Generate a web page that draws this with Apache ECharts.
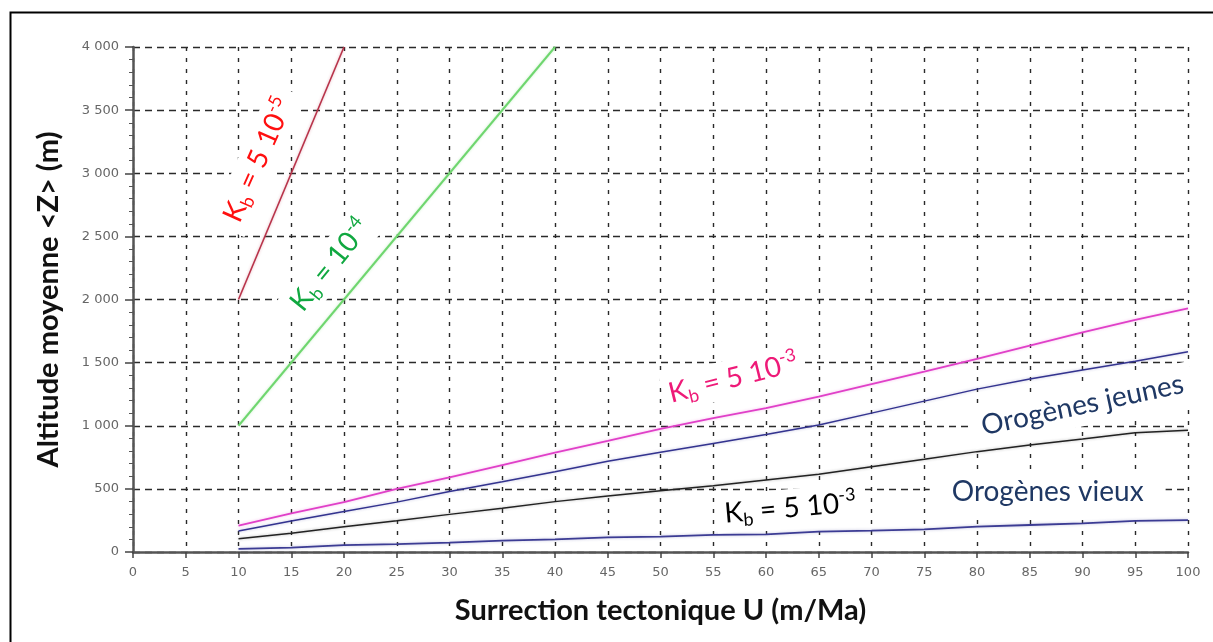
<!DOCTYPE html>
<html>
<head>
<meta charset="utf-8">
<script src="https://cdn.jsdelivr.net/npm/echarts@6/dist/echarts.min.js"></script>
<style>
  html, body { margin: 0; padding: 0; background: #fff; }
  #chart { width: 1213px; height: 642px; }
</style>
</head>
<body>
<div id="chart"></div>
<script>
// surrection tectonique U (m/Ma), abscisses communes des courbes basses
const surrection = [10, 15, 20, 25, 30, 35, 40, 45, 50, 55, 60, 65, 70, 75, 80, 85, 90, 95, 100]

// altitude moyenne <Z> (m)
const kb5e3Rose = [208, 306, 395, 500, 592, 689, 787, 880, 975, 1060, 1140, 1230, 1330, 1428, 1530, 1635, 1740, 1838, 1930]
const orogenesJeunes = [166, 245, 320, 395, 480, 557, 636, 718, 790, 860, 930, 1006, 1100, 1195, 1290, 1370, 1442, 1510, 1587]
const kb5e3Noir = [105, 148, 200, 248, 298, 346, 399, 444, 485, 525, 570, 615, 676, 735, 795, 848, 895, 945, 965]
const orogenesVieux = [24, 34, 55, 63, 74, 90, 100, 116, 121, 135, 140, 161, 169, 180, 201, 214, 227, 246, 253]

const kb5e5U = [10, 20]
const kb5e5Z = [2000, 4000]
const kb1e4U = [10, 40]
const kb1e4Z = [1000, 4000]

const pairs = (xs, ys) => xs.map((x, i) => [x, ys[i]])

const chart = echarts.init(document.getElementById('chart'))

const gridLine = (dash) => ({ show: true, lineStyle: { color: '#2a2a2a', width: 1.4, type: dash } })

function line(name, data, color, width) {
  return {
    name, type: 'line', data, symbol: 'none', silent: true,
    lineStyle: { color, width, shadowColor: color + '55', shadowBlur: 3 },
    z: 3
  }
}

chart.setOption({
  animation: false,
  grid: { left: 133, right: 25, top: 47, bottom: 90 },
  xAxis: {
    type: 'value', min: 0, max: 100, interval: 5,
    name: 'Surrection tectonique U (m/Ma)',
    nameLocation: 'middle', nameGap: 44,
    nameTextStyle: { fontFamily: 'Lato', fontWeight: 'bold', fontSize: 29, color: '#111' },
    axisLine: { lineStyle: { color: '#555', width: 2.5 } },
    axisTick: { show: true, inside: false, length: 6, lineStyle: { color: '#444', width: 1.5 } },
    axisLabel: { margin: 14, fontFamily: 'DejaVu Sans', fontSize: 13, color: '#666' },
    splitLine: gridLine([4, 7])
  },
  yAxis: {
    type: 'value', min: 0, max: 4000, interval: 500,
    name: 'Altitude moyenne <Z> (m)',
    nameLocation: 'middle', nameGap: 70,
    nameTextStyle: { fontFamily: 'Lato', fontWeight: 'bold', fontSize: 29, color: '#111' },
    axisLine: { show: true, lineStyle: { color: '#555', width: 2.5 } },
    axisTick: { show: true, length: 8, lineStyle: { color: '#444', width: 1.5 } },
    minorTick: { show: true, splitNumber: 5, length: 4, lineStyle: { color: '#555' } },
    axisLabel: {
      margin: 14, fontFamily: 'DejaVu Sans', fontSize: 13, color: '#666',
      formatter: (v) => v >= 1000 ? Math.floor(v / 1000) + ' ' + String(v % 1000).padStart(3, '0') : String(v)
    },
    splitLine: gridLine([7, 5])
  },
  series: [
    line('Kb = 5 10-5', pairs(kb5e5U, kb5e5Z), '#b8334a', 1.6),
    line('Kb = 10-4', pairs(kb1e4U, kb1e4Z), '#6fd66f', 2),
    line('Kb = 5 10-3 (rose)', pairs(surrection, kb5e3Rose), '#e040c8', 1.8),
    line('Orogènes jeunes', pairs(surrection, orogenesJeunes), '#33338f', 1.5),
    line('Kb = 5 10-3', pairs(surrection, kb5e3Noir), '#222222', 1.5),
    line('Orogènes vieux', pairs(surrection, orogenesVieux), '#3c3c94', 1.8)
  ]
})

// annotations placées en coordonnées de données
const richFor = (color, size) => ({
  m: { fontFamily: 'Lato', fontSize: size, fill: color, lineHeight: size + 6 },
  s: { fontFamily: 'Lato', fontSize: Math.round(size * 0.65), fill: color, lineHeight: Math.round(size * 0.65), verticalAlign: 'bottom' },
  p: { fontFamily: 'Lato', fontSize: Math.round(size * 0.65), fill: color, lineHeight: Math.round(size * 0.65), verticalAlign: 'top' }
})

const notes = [
  { at: [11.85, 3105], deg: 66, text: '{m|K}{s|b}{m| = 5 10}{p|-5}', color: '#ff1010', pad: [2, 10] },
  { at: [18.7, 2273], deg: 51, text: '{m|K}{s|b}{m| = 10}{p|-4}', color: '#10a840', pad: [2, 10] },
  { at: [56.9, 1378], deg: 14, text: '{m|K}{s|b}{m| = 5 10}{p|-3}', color: '#ee1a78', pad: [2, 6] },
  { at: [90, 1164], deg: 12, text: '{m|Orogènes jeunes}', color: '#1f3864', pad: [4, 10] },
  { at: [62.3, 348], deg: 5, text: '{m|K}{s|b}{m| = 5 10}{p|-3}', color: '#000000', pad: [2, 8] },
  { at: [86.7, 475], deg: 0, text: '{m|Orogènes vieux}', color: '#1f3864', pad: [6, 22] }
]

const graphic = notes.map((n) => {
  const [px, py] = chart.convertToPixel({ gridIndex: 0 }, n.at)
  return {
    type: 'text', x: px, y: py, rotation: n.deg * Math.PI / 180, z: 10,
    style: {
      text: n.text, rich: richFor(n.color, 28), fill: n.color, align: 'center', verticalAlign: 'middle',
      backgroundColor: '#fff', padding: n.pad
    }
  }
})

// cadre de la figure
graphic.push({
  type: 'rect', left: 8, top: 10, z: 0, silent: true,
  shape: { width: 1300, height: 700 },
  style: { fill: 'none', stroke: '#000', lineWidth: 2 }
})

chart.setOption({ graphic })

window.addEventListener('resize', () => chart.resize())
</script>
</body>
</html>
